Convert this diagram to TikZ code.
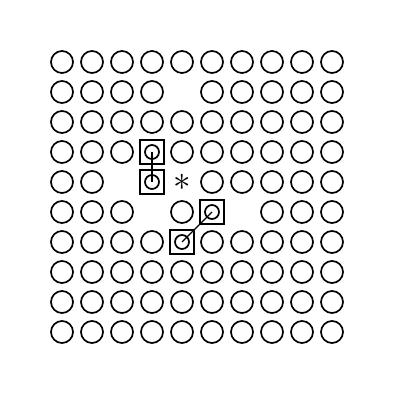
\documentclass[tikz,border=0pt]{standalone}
\usetikzlibrary{positioning}

\tikzset{
  dot/.style={draw, circle, minimum size=0.55cm, inner sep=0pt},
  sqbox/.style={draw, rectangle, line width=1.4pt, minimum size=0.6cm, inner sep=0pt},
  ring/.style={draw, circle, minimum size=0.35cm, inner sep=0pt},
}

\begin{document}
\begin{tikzpicture}[line width=1.2pt]

% Frame
\useasboundingbox (-1.55,1.55) rectangle (8.45,-8.45);

% Lattice of sites (row / columns that hold a plain site)
\foreach \r/\cols in {0/{0,...,9}, 1/{0,1,2,3,5,6,7,8,9}, 2/{0,...,9},
                      3/{0,1,2,4,5,6,7,8,9}, 4/{0,1,5,6,7,8,9},
                      5/{0,1,2,4,7,8,9}, 6/{0,1,2,3,5,6,7,8,9},
                      7/{0,...,9}, 8/{0,...,9}, 9/{0,...,9}}
  \foreach \c in \cols
    \node[dot] (d-\r-\c) at (\c*0.75,-\r*0.75) {};

% Marked sites
\node[sqbox] (sqA) at (3*0.75,-3*0.75) {};
\node[ring] (rA) at (sqA) {};
\node[sqbox] (sqB) at (3*0.75,-4*0.75) {};
\node[ring] (rB) at (sqB) {};
\node[sqbox] (sqC) at (5*0.75,-5*0.75) {};
\node[ring] (rC) at (sqC) {};
\node[sqbox] (sqD) at (4*0.75,-6*0.75) {};
\node[ring] (rD) at (sqD) {};

% Vacancy
\node[font=\Huge, inner sep=0pt] (star) at (4*0.75,-4*0.75) {$\ast$};

% Bonds
\draw (rA.center) -- (rB.center);
\draw[line width=0.8pt] (rC.center) -- (rD.center);

\end{tikzpicture}
\end{document}
